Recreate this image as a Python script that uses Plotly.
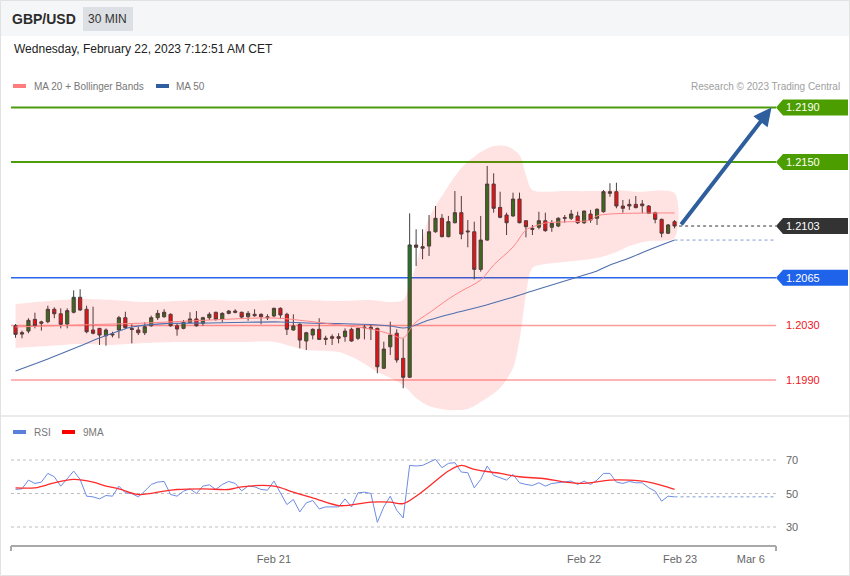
import plotly.graph_objects as go

# ---------------- data ----------------
open_ = [1.20298,1.20237,1.20259,1.20345,1.20316,1.20328,1.20419,1.20386,1.20311,1.20397,
         1.20507,1.20419,1.20267,1.20279,1.20225,1.20230,1.20267,1.20357,1.20278,1.20267,
         1.20247,1.20298,1.20357,1.20364,1.20382,1.20298,1.20279,1.20323,1.20348,1.20316,
         1.20357,1.20397,1.20345,1.20389,1.20406,1.20397,1.20364,1.20382,1.20382,1.20364,
         1.20370,1.20426,1.20382,1.20267,1.20309,1.20186,1.20230,1.20272,1.20198,1.20218,
         1.20218,1.20218,1.20272,1.20206,1.20283,1.20287,1.20279,1.19986,1.20144,1.20243,
         1.20059,1.19920,1.20891,1.20867,1.20883,1.20988,1.21087,1.20952,1.21054,1.21128,
         1.20994,1.20988,1.20712,1.20927,1.21338,1.21167,1.21111,1.21104,1.21228,1.21069,
         1.21013,1.21021,1.21069,1.21021,1.21030,1.21087,1.21087,1.21104,1.21054,1.21118,
         1.21087,1.21135,1.21270,1.21282,1.21177,1.21189,1.21189,1.21192,1.21177,1.21128,
         1.21079,1.20977,1.21062]
high = [1.20311,1.20262,1.20353,1.20394,1.20335,1.20445,1.20433,1.20426,1.20426,1.20558,
        1.20566,1.20445,1.20438,1.20282,1.20279,1.20254,1.20370,1.20401,1.20309,1.20291,
        1.20323,1.20372,1.20414,1.20419,1.20389,1.20316,1.20340,1.20397,1.20406,1.20364,
        1.20397,1.20401,1.20397,1.20414,1.20419,1.20401,1.20406,1.20419,1.20389,1.20382,
        1.20431,1.20433,1.20394,1.20382,1.20316,1.20254,1.20279,1.20353,1.20225,1.20235,
        1.20243,1.20279,1.20284,1.20284,1.20304,1.20304,1.20284,1.20181,1.20328,1.20272,
        1.20206,1.21123,1.21006,1.21006,1.21111,1.21177,1.21118,1.21104,1.21287,1.21250,
        1.21074,1.21062,1.21104,1.21471,1.21417,1.21282,1.21128,1.21275,1.21275,1.21074,
        1.21038,1.21135,1.21128,1.21074,1.21094,1.21111,1.21148,1.21135,1.21143,1.21148,
        1.21160,1.21294,1.21344,1.21348,1.21221,1.21226,1.21250,1.21221,1.21184,1.21135,
        1.21085,1.21045,1.21074]
low = [1.20210,1.20206,1.20243,1.20279,1.20262,1.20316,1.20353,1.20279,1.20279,1.20389,
       1.20406,1.20243,1.20235,1.20157,1.20152,1.20213,1.20206,1.20274,1.20169,1.20230,
       1.20230,1.20291,1.20340,1.20357,1.20291,1.20225,1.20272,1.20316,1.20291,1.20298,
       1.20340,1.20335,1.20323,1.20382,1.20389,1.20348,1.20335,1.20364,1.20309,1.20340,
       1.20360,1.20348,1.20230,1.20262,1.20132,1.20120,1.20198,1.20193,1.20157,1.20157,
       1.20169,1.20181,1.20181,1.20193,1.20198,1.20193,1.19949,1.19981,1.20083,1.20027,
       1.19839,1.19915,1.20737,1.20786,1.20810,1.20981,1.20947,1.20947,1.21050,1.20933,
       1.20874,1.20639,1.20695,1.20922,1.21128,1.21087,1.20964,1.21098,1.21050,1.20947,
       1.20964,1.21006,1.20988,1.20988,1.21021,1.21054,1.21074,1.21045,1.21045,1.21054,
       1.21038,1.21128,1.21245,1.21160,1.21128,1.21148,1.21160,1.21123,1.21118,1.21050,
       1.20947,1.20971,1.21013]
close = [1.20235,1.20247,1.20338,1.20298,1.20326,1.20419,1.20386,1.20309,1.20409,1.20507,
         1.20414,1.20254,1.20243,1.20230,1.20267,1.20237,1.20357,1.20284,1.20271,1.20247,
         1.20291,1.20357,1.20389,1.20397,1.20298,1.20274,1.20323,1.20348,1.20298,1.20357,
         1.20382,1.20345,1.20389,1.20406,1.20397,1.20362,1.20389,1.20372,1.20364,1.20357,
         1.20426,1.20377,1.20272,1.20296,1.20193,1.20247,1.20272,1.20198,1.20206,1.20206,
         1.20206,1.20259,1.20186,1.20279,1.20287,1.20274,1.19997,1.20127,1.20230,1.20047,
         1.19920,1.20891,1.20874,1.20878,1.20988,1.21087,1.20952,1.21062,1.21128,1.20971,
         1.20988,1.20712,1.20927,1.21338,1.21160,1.21094,1.21054,1.21228,1.21054,1.21025,
         1.21006,1.21069,1.20996,1.21050,1.21087,1.21091,1.21118,1.21054,1.21140,1.21074,
         1.21153,1.21282,1.21282,1.21177,1.21160,1.21177,1.21165,1.21179,1.21123,1.21079,
         1.20977,1.21038,1.21030]

# Bollinger band (MA20 +/- bands) read at sampled candle indices
bb_upper_idx = [0,5,10,15,20,25,30,35,40,45,50,55,58,60,61,62,64,67,69,72,74,76,78,79,80,85,90,93,96,102]
bb_upper = [1.20458,1.20480,1.20494,1.20487,1.20472,1.20480,1.20487,1.20480,1.20487,1.20487,
            1.20480,1.20487,1.20472,1.20487,1.20597,1.20744,1.21089,1.21324,1.21456,1.21573,
            1.21617,1.21617,1.21551,1.21405,1.21294,1.21287,1.21287,1.21294,1.21281,1.21272]
bb_lower_idx = [0,5,10,15,20,25,30,35,40,45,50,53,56,58,60,62,64,67,70,72,75,77,78,79,80,82,85,90,93,95,98,102]
bb_lower = [1.20135,1.20149,1.20164,1.20157,1.20171,1.20179,1.20179,1.20179,1.20179,1.20120,
            1.20105,1.20047,1.19959,1.19915,1.19863,1.19768,1.19709,1.19680,1.19687,1.19738,
            1.19841,1.19988,1.20193,1.20524,1.20722,1.20751,1.20766,1.20795,1.20839,1.20883,
            1.20920,1.20942]
ma20_idx = [0,10,20,30,40,45,50,55,58,60,61,62,64,67,69,72,74,77,79,80,82,85,89,90,92,102]
ma20 = [1.20289,1.20304,1.20318,1.20340,1.20355,1.20333,1.20304,1.20274,1.20237,1.20208,
        1.20267,1.20326,1.20392,1.20494,1.20553,1.20634,1.20744,1.20876,1.21001,1.21023,
        1.21052,1.21060,1.21074,1.21104,1.21118,1.21126]
ma50_idx = [0,5,10,13,16,18,23,30,34,41,45,50,55,58,60,61,64,68,72,76,80,84,87,90,92,95,98,102]
ma50 = [1.19966,1.20054,1.20149,1.20208,1.20259,1.20289,1.20314,1.20318,1.20322,1.20326,
        1.20318,1.20314,1.20307,1.20296,1.20282,1.20289,1.20340,1.20392,1.20439,1.20494,
        1.20553,1.20612,1.20656,1.20700,1.20744,1.20795,1.20854,1.20927]

rsi = [52.4,52.8,58.0,56.0,56.8,62.0,60.0,54.4,58.8,63.4,
       58.4,48.4,48.0,46.8,48.8,48.4,54.4,50.4,50.0,48.0,
       51.4,55.4,56.8,57.2,49.4,48.4,51.4,52.8,50.0,54.4,
       55.2,52.4,55.4,57.2,56.0,51.6,54.4,54.0,52.4,52.0,
       57.4,50.4,43.4,46.4,39.0,44.4,45.8,40.8,42.0,42.0,
       42.0,46.8,42.0,50.4,50.8,50.0,32.8,42.0,48.4,40.0,
       35.4,66.8,66.4,66.8,68.8,70.4,65.4,68.0,68.4,62.8,
       62.4,53.4,58.4,66.4,60.8,59.4,58.0,61.4,56.4,55.4,
       54.8,56.4,54.4,56.0,56.4,56.8,57.4,55.4,57.4,55.4,
       58.0,62.0,62.0,56.8,56.0,57.2,56.4,56.4,53.4,51.4,
       45.4,48.4,48.0]
ma9_idx = [0,3,6,9,12,14,16,19,23,25,29,33,35,40,43,46,50,52,55,58,60,62,65,67,69,71,75,78,82,85,88,92,95,98,100,102]
ma9 = [53.4,53.4,56.4,58.4,56.8,54.4,52.8,49.4,51.4,52.4,52.8,52.4,54.0,54.4,50.8,47.4,42.8,43.2,
       44.8,44.8,44.0,48.4,57.4,63.4,66.8,64.4,62.0,60.0,58.8,56.8,56.0,58.0,58.0,56.8,54.8,52.4]
rsi_levels = [70, 50, 30]

resistances = [1.2190, 1.2150]
pivot = 1.2065
supports = [1.2030, 1.1990]
last_price = 1.2103
target = 1.2190

tick_labels = ["Feb 21", "Feb 22", "Feb 23", "Mar 6"]
tick_pos = [40, 88, 102.85, 113.8]

# ---------------- layout helpers ----------------
W, H = 850, 576
def px(xp): return xp / W
def py(yp): return 1 - yp / H

X0, X1 = -0.7, 117.7
FONT = "Liberation Sans, Arial, sans-serif"
x = list(range(len(close)))

fig = go.Figure()

band_x = bb_upper_idx + bb_lower_idx[::-1]
band_y = bb_upper + bb_lower[::-1]
fig.add_trace(go.Scatter(x=band_x, y=band_y, mode="lines", fill="toself",
                         fillcolor="rgba(255,0,0,0.11)",
                         line=dict(width=0, shape="spline", smoothing=0.8),
                         hoverinfo="skip", showlegend=False))
fig.add_trace(go.Scatter(x=ma50_idx, y=ma50, mode="lines",
                         line=dict(color="#4f6fad", width=1.1, shape="spline"),
                         hoverinfo="skip", showlegend=False))
fig.add_trace(go.Scatter(x=ma20_idx, y=ma20, mode="lines",
                         line=dict(color="#ff8585", width=1, shape="spline"),
                         hoverinfo="skip", showlegend=False))
fig.add_trace(go.Scatter(x=[x[-1], X1], y=[ma50[-1], ma50[-1]], mode="lines",
                         line=dict(color="#7f9ad6", width=1, dash="dot"),
                         hoverinfo="skip", showlegend=False))
fig.add_trace(go.Candlestick(x=x, open=open_, high=high, low=low, close=close,
                             increasing=dict(fillcolor="#1f7a1f", line=dict(color="#404040", width=1)),
                             decreasing=dict(fillcolor="#ea1218", line=dict(color="#404040", width=1)),
                             showlegend=False))

# RSI panel
fig.add_trace(go.Scatter(x=x, y=rsi, mode="lines", xaxis="x2", yaxis="y2",
                         line=dict(color="#6d8be3", width=1), hoverinfo="skip", showlegend=False))
fig.add_trace(go.Scatter(x=[x[-1], X1], y=[rsi[-1], rsi[-1]], mode="lines", xaxis="x2", yaxis="y2",
                         line=dict(color="#7f9ad6", width=1, dash="dot"), hoverinfo="skip", showlegend=False))
fig.add_trace(go.Scatter(x=ma9_idx, y=ma9, mode="lines", xaxis="x2", yaxis="y2",
                         line=dict(color="#ff2a2a", width=1.3, shape="spline"), hoverinfo="skip", showlegend=False))

shapes = []
annotations = []

# background chrome
shapes.append(dict(type="rect", xref="paper", yref="paper", x0=0, x1=1, y0=py(36), y1=1,
                   fillcolor="#f5f6f7", line=dict(width=0), layer="below"))
shapes.append(dict(type="rect", xref="paper", yref="paper", x0=px(83), x1=px(133), y0=py(31), y1=py(7),
                   fillcolor="#dcdfe3", line=dict(width=0), layer="below"))
shapes.append(dict(type="line", xref="paper", yref="paper", x0=0, x1=1, y0=py(416), y1=py(416),
                   line=dict(color="#e4e4e4", width=1.5)))
shapes.append(dict(type="rect", xref="paper", yref="paper", x0=px(0.5), x1=px(849.5), y0=py(575.5), y1=py(0.5),
                   line=dict(color="#e2e2e2", width=1)))

# level lines
LX0, LX1 = px(11), px(776)
def label_box(level, color, yref="y"):
    shapes.append(dict(type="path", xref="paper", yref=yref, xsizemode="pixel", ysizemode="pixel",
                       xanchor=LX1, yanchor=level, path="M0,0 L7,8 L72,8 L72,-8 L7,-8 Z",
                       fillcolor=color, line=dict(width=0)))
    annotations.append(dict(x=px(784), y=level, xref="paper", yref=yref, text=f"{level:.4f}",
                            showarrow=False, xanchor="left", yanchor="middle",
                            font=dict(family=FONT, size=11, color="white")))

for lv in resistances:
    shapes.append(dict(type="line", xref="paper", yref="y", x0=LX0, x1=LX1, y0=lv, y1=lv,
                       line=dict(color="#4c9c0c", width=2), layer="below"))
    label_box(lv, "#4c9e00")
shapes.append(dict(type="line", xref="paper", yref="y", x0=LX0, x1=LX1, y0=pivot, y1=pivot,
                   line=dict(color="#2a66e8", width=1.5), layer="below"))
label_box(pivot, "#1f63ea")
for lv in supports:
    shapes.append(dict(type="line", xref="paper", yref="y", x0=LX0, x1=LX1, y0=lv, y1=lv,
                       line=dict(color="#ff9c9c", width=1.5), layer="below"))
    annotations.append(dict(x=px(784), y=lv, xref="paper", yref="y", text=f"{lv:.4f}",
                            showarrow=False, xanchor="left", yanchor="middle",
                            font=dict(family=FONT, size=11, color="#f0151c")))
shapes.append(dict(type="line", xref="x", yref="y", x0=x[-1] + 0.7, x1=X1, y0=last_price, y1=last_price,
                   line=dict(color="#333333", width=1, dash="dot")))
label_box(last_price, "#333333")

# projection arrow
annotations.append(dict(x=117.0, y=target, xref="x", yref="y", ax=x[-1] + 0.85, ay=last_price,
                        axref="x", ayref="y", showarrow=True, arrowhead=2, arrowsize=0.9,
                        arrowwidth=4, arrowcolor="#2f5e9e", text=""))

# RSI grid lines and labels
for lv in rsi_levels:
    shapes.append(dict(type="line", xref="paper", yref="y2", x0=LX0, x1=LX1, y0=lv, y1=lv,
                       line=dict(color="#bdbdbd", width=1, dash="dot"), layer="below"))
    annotations.append(dict(x=px(784), y=lv, xref="paper", yref="y2", text=str(lv), showarrow=False,
                            xanchor="left", yanchor="middle", font=dict(family=FONT, size=11, color="#666")))

# bottom axis bracket
for (xa, ya, xb, yb) in [(11, 546, 776, 546), (11, 546, 11, 551), (776, 546, 776, 551)]:
    shapes.append(dict(type="line", xref="paper", yref="paper", x0=px(xa), x1=px(xb), y0=py(ya), y1=py(yb),
                       line=dict(color="#a9a9a9", width=2)))

# legend swatches
for (xa, xb, yc, col) in [(13, 26, 86, "#ff7c7c"), (156, 169, 86, "#2f5d9e"),
                          (13, 26, 432, "#5a7fdc"), (62, 75, 432, "#ff0000")]:
    shapes.append(dict(type="rect", xref="paper", yref="paper", x0=px(xa), x1=px(xb),
                       y0=py(yc + 2), y1=py(yc - 2), fillcolor=col, line=dict(width=0)))

def txt(xp, yp, s, size, color, anchor="left", bold=False):
    annotations.append(dict(x=px(xp), y=py(yp), xref="paper", yref="paper",
                            text=f"<b>{s}</b>" if bold else s, showarrow=False,
                            xanchor=anchor, yanchor="middle",
                            font=dict(family=FONT, size=size, color=color)))

txt(10, 19, "GBP/USD", 14, "#2b2b2b", bold=True)
txt(108, 19, "30 MIN", 12, "#333333", anchor="center")
txt(12, 49, "Wednesday, February 22, 2023 7:12:51 AM CET", 12, "#222222")
txt(32, 86, "MA 20 + Bollinger Bands", 10, "#777777")
txt(174, 86, "MA 50", 10, "#777777")
txt(842, 86, "Research © 2023 Trading Central", 10, "#a0a0a0", anchor="right")
txt(32, 432, "RSI", 10, "#777777")
txt(81, 432, "9MA", 10, "#777777")

fig.update_layout(
    width=W, height=H, margin=dict(l=0, r=0, t=0, b=0),
    paper_bgcolor="white", plot_bgcolor="white",
    font=dict(family=FONT),
    showlegend=False,
    xaxis=dict(domain=[px(11), px(776)], range=[X0, X1], visible=False, anchor="y",
               rangeslider=dict(visible=False), fixedrange=True),
    yaxis=dict(domain=[py(412), py(95)], range=[1.196651, 1.219917], visible=False, fixedrange=True),
    xaxis2=dict(domain=[px(11), px(776)], range=[X0, X1], anchor="y2", showgrid=False, zeroline=False,
                showline=False, ticks="", tickvals=tick_pos, ticktext=tick_labels, ticklabelstandoff=6,
                tickfont=dict(family=FONT, size=11, color="#666"), fixedrange=True),
    yaxis2=dict(domain=[py(545), py(440)], range=[19.25, 81.94], visible=False, fixedrange=True),
    shapes=shapes, annotations=annotations,
)

fig.write_html("out.html", config={"displayModeBar": False},
               post_script="document.body.style.margin='0';document.body.style.overflow='hidden';")
